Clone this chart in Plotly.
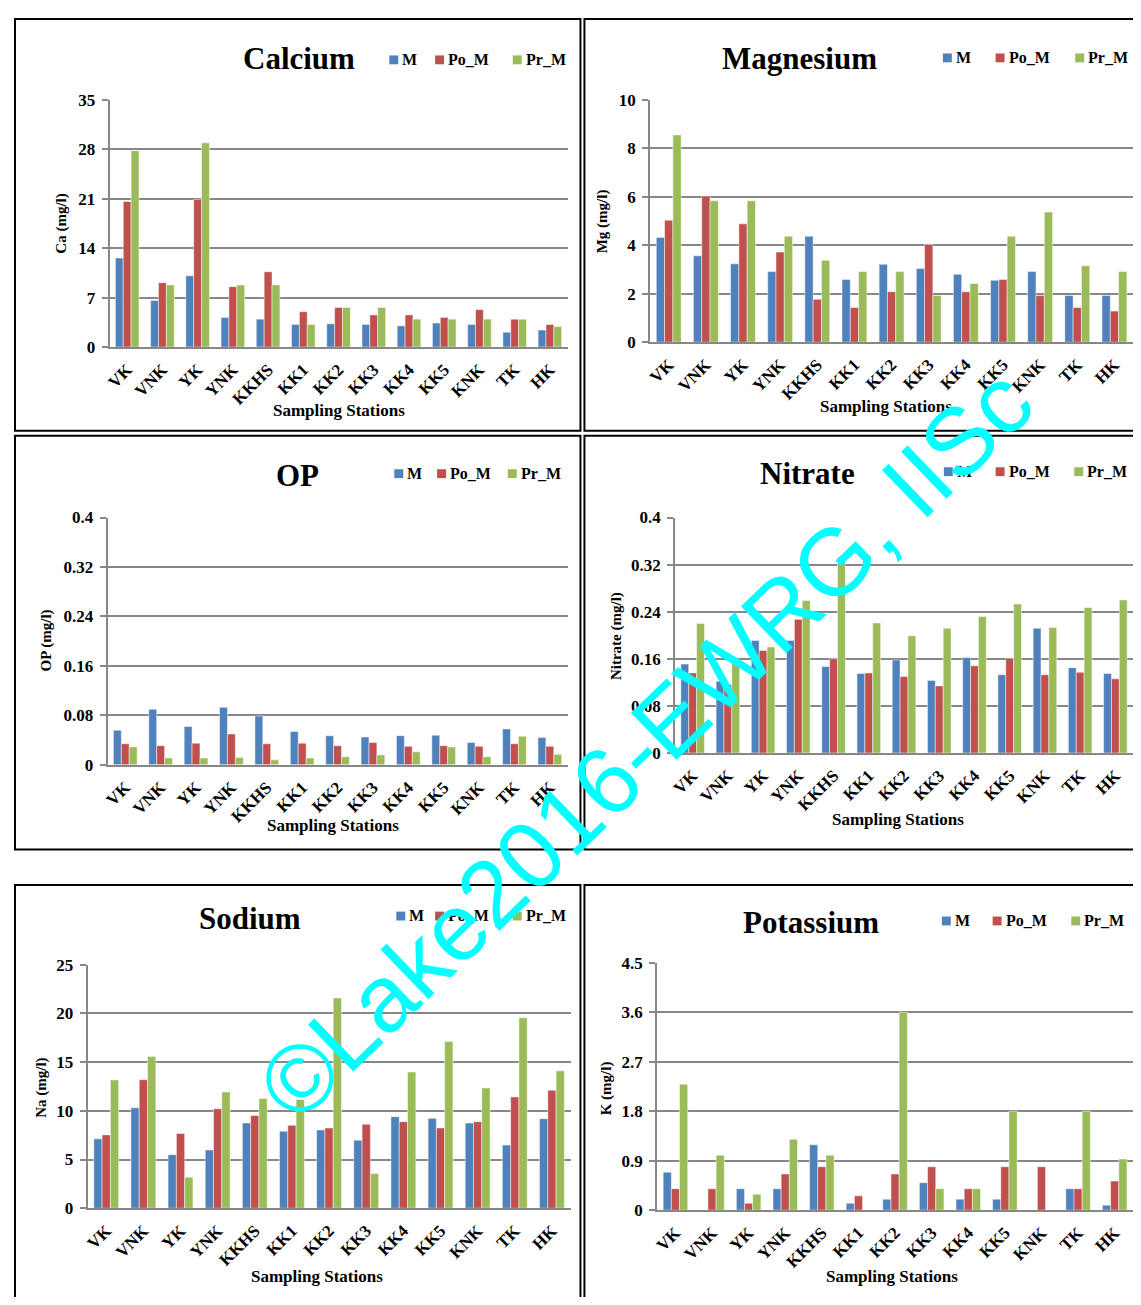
import plotly.graph_objects as go

W, H = 1141, 1305
BODY_MARGIN = 8  # default page margin around the plot div
FW, FH = W - 2 * BODY_MARGIN, H - 2 * BODY_MARGIN

stations = ["VK", "VNK", "YK", "YNK", "KKHS", "KK1", "KK2", "KK3", "KK4", "KK5", "KNK", "TK", "HK"]
series_names = ["M", "Po_M", "Pr_M"]
series_colors = ["#4F81BD", "#C0504D", "#9BBB59"]

ca_M = [12.6, 6.6, 10.1, 4.2, 3.95, 3.2, 3.3, 3.2, 3.0, 3.4, 3.2, 2.1, 2.4]
ca_Po = [20.6, 9.1, 20.9, 8.55, 10.65, 5.0, 5.6, 4.55, 4.55, 4.2, 5.3, 3.95, 3.2]
ca_Pr = [27.8, 8.8, 28.9, 8.8, 8.8, 3.2, 5.6, 5.6, 3.95, 3.95, 3.95, 3.95, 2.9]

mg_M = [4.32, 3.56, 3.23, 2.91, 4.37, 2.58, 3.21, 3.04, 2.80, 2.55, 2.91, 1.92, 1.92]
mg_Po = [5.03, 6.03, 4.88, 3.72, 1.77, 1.43, 2.08, 4.03, 2.08, 2.58, 1.92, 1.43, 1.28]
mg_Pr = [8.55, 5.83, 5.83, 4.37, 3.38, 2.91, 2.91, 1.92, 2.42, 4.37, 5.37, 3.15, 2.91]

op_M = [0.056, 0.090, 0.062, 0.093, 0.079, 0.054, 0.047, 0.045, 0.047, 0.048, 0.036, 0.058, 0.044]
op_Po = [0.034, 0.031, 0.035, 0.050, 0.034, 0.035, 0.031, 0.036, 0.030, 0.031, 0.030, 0.034, 0.030]
op_Pr = [0.029, 0.011, 0.011, 0.012, 0.008, 0.011, 0.013, 0.016, 0.021, 0.029, 0.013, 0.046, 0.017]

no3_M = [0.151, 0.122, 0.191, 0.191, 0.147, 0.135, 0.158, 0.123, 0.162, 0.133, 0.212, 0.145, 0.135]
no3_Po = [0.136, 0.116, 0.174, 0.227, 0.160, 0.136, 0.130, 0.114, 0.148, 0.161, 0.133, 0.137, 0.126]
no3_Pr = [0.220, 0.159, 0.180, 0.259, 0.333, 0.221, 0.199, 0.212, 0.232, 0.253, 0.213, 0.247, 0.260]

na_M = [7.12, 10.31, 5.5, 5.97, 8.75, 7.9, 8.04, 6.99, 9.4, 9.23, 8.75, 6.48, 9.19]
na_Po = [7.53, 13.2, 7.67, 10.21, 9.53, 8.51, 8.24, 8.62, 8.89, 8.24, 8.89, 11.43, 12.11]
na_Pr = [13.16, 15.57, 3.19, 11.94, 11.26, 11.16, 21.6, 3.56, 13.98, 17.13, 12.35, 19.57, 14.11]

k_M = [0.69, 0, 0.39, 0.39, 1.19, 0.126, 0.2, 0.5, 0.2, 0.2, 0, 0.39, 0.09]
k_Po = [0.39, 0.39, 0.126, 0.66, 0.79, 0.26, 0.66, 0.79, 0.39, 0.79, 0.79, 0.39, 0.53]
k_Pr = [2.29, 1.0, 0.29, 1.29, 1.0, 0, 3.6, 0.39, 0.39, 1.8, 0, 1.8, 0.93]

titles = ["Calcium", "Magnesium", "OP", "Nitrate", "Sodium", "Potassium"]
y_titles = ["Ca (mg/l)", "Mg (mg/l)", "OP (mg/l)", "Nitrate (mg/l)", "Na (mg/l)", "K (mg/l)"]
y_max = [35, 10, 0.4, 0.4, 25, 4.5]
y_step = [7, 2, 0.08, 0.08, 5, 0.9]
x_title = "Sampling Stations"
watermark = "©Lake2016-EWRG, IISc"

data = [
    (ca_M, ca_Po, ca_Pr),
    (mg_M, mg_Po, mg_Pr),
    (op_M, op_Po, op_Pr),
    (no3_M, no3_Po, no3_Pr),
    (na_M, na_Po, na_Pr),
    (k_M, k_Po, k_Pr),
]

# layout geometry (window pixels)
plot_boxes = [  # x0, x1, ytop, ybottom
    (105, 565, 92, 343),
    (648, 1137, 92, 338),
    (103, 565, 516, 767),
    (673, 1140, 516, 755),
    (83, 568, 970, 1217),
    (655, 1139, 968, 1219),
]
panel_boxes = [  # x0, y0, x1, y1
    (10, 10, 578, 428),
    (582, 10, 1160, 428),
    (10, 433, 578, 853),
    (582, 433, 1160, 853),
    (10, 889, 578, 1320),
    (582, 889, 1160, 1320),
]
title_pos = [(295, 50), (798, 50), (294, 473), (806, 471), (246, 923), (810, 927)]
legend_pos = [
    ((386, 432, 510), 51),
    ((942, 995, 1075), 49),
    ((391, 434, 505), 471),
    ((943, 995, 1074), 469),
    ((393, 432, 510), 920),
    ((941, 992, 1071), 925),
]
xtitle_pos = [(335, 407), (885, 403), (329, 829), (897, 823), (313, 1286), (891, 1286)]
ytitle_pos = [(57, 218), (601, 215), (42, 641), (614, 636), (37, 1095), (605, 1095)]


def px(x):
    return (x - BODY_MARGIN) / FW


def py(y):
    return 1 - (y - BODY_MARGIN) / FH


SERIF = "Liberation Serif"
GRID = "#878787"

fig = go.Figure()
layout = dict(
    width=FW, height=FH,
    margin=dict(l=0, r=0, t=0, b=0),
    paper_bgcolor="white", plot_bgcolor="white",
    barmode="group", bargap=0.33, bargroupgap=0.0,
    showlegend=False,
    font=dict(family=SERIF, color="black"),
)
annotations = []
shapes = []

for i in range(6):
    n = i + 1
    xa = "x" if n == 1 else f"x{n}"
    ya = "y" if n == 1 else f"y{n}"
    for s in range(3):
        fig.add_trace(go.Bar(
            x=stations, y=data[i][s], name=series_names[s],
            marker=dict(color=series_colors[s], line=dict(color="rgba(255,255,255,0.6)", width=0.8)),
            xaxis=xa, yaxis=ya, showlegend=False,
        ))
    x0, x1, yt, yb = plot_boxes[i]
    layout[f"xaxis{'' if n == 1 else n}"] = dict(
        domain=[px(x0), min(1.0, px(x1))], anchor=ya, type="category",
        range=[-0.5, 12.5], showgrid=False, showline=True, linecolor=GRID, linewidth=2,
        ticks="", tickangle=-45, ticklabelstandoff=4,
        tickfont=dict(family=SERIF, size=17, weight="bold", color="black"),
    )
    layout[f"yaxis{'' if n == 1 else n}"] = dict(
        domain=[py(yb), py(yt)], anchor=xa, range=[0, y_max[i]],
        tick0=0, dtick=y_step[i], showgrid=True, gridcolor=GRID, gridwidth=2,
        showline=True, linecolor=GRID, linewidth=2, zeroline=False,
        ticks="outside", ticklen=6, tickcolor=GRID, tickwidth=2, ticklabelstandoff=3,
        tickfont=dict(family=SERIF, size=17, weight="bold", color="black"),
    )
    # panel border
    bx0, by0, bx1, by1 = panel_boxes[i]
    shapes.append(dict(type="rect", xref="paper", yref="paper",
                       x0=px(bx0), x1=px(bx1), y0=py(by1), y1=py(by0),
                       line=dict(color="black", width=2), fillcolor="rgba(0,0,0,0)", layer="below"))
    # title
    tx, ty = title_pos[i]
    annotations.append(dict(text=titles[i], x=px(tx), y=py(ty), xref="paper", yref="paper",
                            showarrow=False, xanchor="center", yanchor="middle",
                            font=dict(family=SERIF, size=31, weight="bold", color="black")))
    # legend
    lxs, ly = legend_pos[i]
    for s in range(3):
        lx = lxs[s]
        shapes.append(dict(type="rect", xref="paper", yref="paper",
                           x0=px(lx), x1=px(lx + 9), y0=py(ly + 5), y1=py(ly - 4),
                           line=dict(width=0), fillcolor=series_colors[s]))
        annotations.append(dict(text=series_names[s], x=px(lx + 11), y=py(ly), xref="paper", yref="paper",
                                showarrow=False, xanchor="left", yanchor="middle",
                                font=dict(family=SERIF, size=16, weight="bold", color="black")))
    # axis titles
    xtx, xty = xtitle_pos[i]
    annotations.append(dict(text=x_title, x=px(xtx), y=py(xty), xref="paper", yref="paper",
                            showarrow=False, xanchor="center", yanchor="middle",
                            font=dict(family=SERIF, size=17, weight="bold", color="black")))
    ytx, yty = ytitle_pos[i]
    annotations.append(dict(text=y_titles[i], x=px(ytx), y=py(yty), xref="paper", yref="paper",
                            showarrow=False, xanchor="center", yanchor="middle", textangle=-90,
                            font=dict(family=SERIF, size=15, weight="bold", color="black")))

# watermark
annotations.append(dict(text=watermark, x=px(643), y=py(746), xref="paper", yref="paper",
                        showarrow=False, xanchor="center", yanchor="middle", textangle=-44,
                        font=dict(family="Liberation Sans", size=95, color="#00FFFF")))

layout["annotations"] = annotations
layout["shapes"] = shapes
fig.update_layout(**layout)

fig.write_html("out.html", config={"displayModeBar": False})
